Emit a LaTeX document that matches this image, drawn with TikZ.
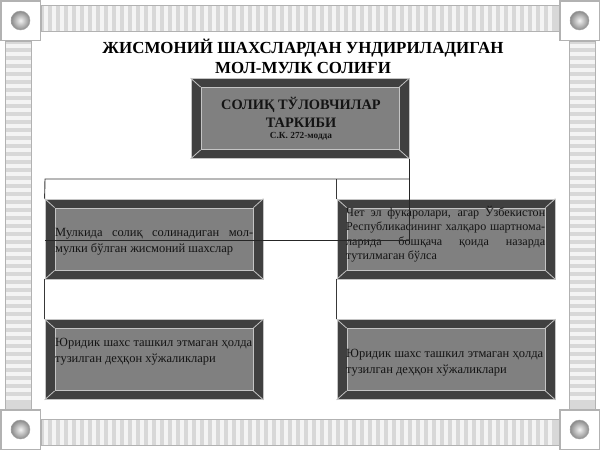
\documentclass[tikz,border=0pt]{standalone}
\usepackage{fontspec}
\setmainfont{Liberation Serif}
\usetikzlibrary{calc}
\definecolor{bevdark}{HTML}{404040}
\definecolor{bevmid}{HTML}{808080}
\definecolor{bevline}{HTML}{C4C4C4}
\definecolor{barfill}{HTML}{D8D8D8}
\definecolor{barstripe}{HTML}{F4F4F4}
\definecolor{barline}{HTML}{B2B2B2}
\definecolor{connc}{HTML}{383838}
\definecolor{ink}{HTML}{141414}
\tikzset{
  outerbox/.style={draw=bevline, fill=bevdark, line width=0.8pt, inner sep=0pt,
    minimum width=218pt, minimum height=80pt},
  innerbox/.style={draw=bevline, fill=bevmid, line width=0.8pt, inner sep=0pt,
    minimum width=198pt, minimum height=62pt},
  bevel/.style={draw=bevline, line width=0.8pt},
  conn/.style={draw=connc, line width=0.9pt},
  overconn/.style={draw=black!85, line width=1pt},
  txt/.style={inner sep=0pt, text=ink, font=\fontsize{12.5}{16}\selectfont},
  titletxt/.style={inner sep=0pt, text=black, font=\fontsize{16.9}{20.5}\selectfont\bfseries},
  barrect/.style={fill=barfill},
  barframe/.style={draw=barline, line width=1pt},
  cornersq/.style={draw=barline, fill=white, line width=1.5pt},
}
\newcommand\bevbox[3]{%
  \node[outerbox] (#1) at (#2,#3) {};
  \node[innerbox] (#1i) at (#2,#3) {};
  \draw[bevel] (#1.north west) -- (#1i.north west);
  \draw[bevel] (#1.north east) -- (#1i.north east);
  \draw[bevel] (#1.south west) -- (#1i.south west);
  \draw[bevel] (#1.south east) -- (#1i.south east);
}
\begin{document}
\begin{tikzpicture}[x=1pt,y=-1pt]
\useasboundingbox (0,0) rectangle (600,450);
\fill[white] (0,0) rectangle (600,450);
% frame bars
\foreach \yy in {5,419} {
  \fill[barrect] (41,\yy) rectangle (559,\yy+26);
  \foreach \xx in {44,52,...,552} \fill[barstripe] (\xx,\yy) rectangle (\xx+4,\yy+26);
  \draw[barframe] (41,\yy) rectangle (559,\yy+26);
}
\foreach \xx in {5,569} {
  \fill[barrect] (\xx,41) rectangle (\xx+26,409);
  \foreach \yy in {44,52,...,402} \fill[barstripe] (\xx,\yy) rectangle (\xx+26,\yy+4);
  \draw[barframe] (\xx,41) rectangle (\xx+26,409);
}
\foreach \cx/\cy in {0/0,559/0,0/409,559/409} {
  \draw[cornersq] (\cx+0.75,\cy+0.75) rectangle (\cx+40.25,\cy+40.25);
  \shade[inner color=white!90!gray, outer color=gray!85!black!80] (\cx+20.5,\cy+20.5) circle (9.5);
  \draw[gray!70, line width=0.4pt] (\cx+20.5,\cy+20.5) circle (9.5);
}
% title
\node[titletxt, anchor=base] (title) at (303,53) {\vtop{\hsize=460pt\parindent=0pt\centering
  ЖИСМОНИЙ ШАХСЛАРДАН УНДИРИЛАДИГАН\par МОЛ-МУЛК СОЛИҒИ\par}};
% boxes
\bevbox{T}{300}{118.5}
\bevbox{B1}{154}{239}
\bevbox{B2}{446}{239}
\bevbox{B3}{154}{359.5}
\bevbox{B4}{446}{359.5}
% texts
\node[inner sep=0pt, text=ink, anchor=base] (Tt) at (301,109) {\vtop{\hsize=198pt\parindent=0pt\centering
  \fontsize{14.4}{18}\selectfont\bfseries СОЛИҚ ТЎЛОВЧИЛАР\par ТАРКИБИ\par
  \fontsize{9.3}{11.5}\selectfont С.К. 272-модда\par}};
\node[txt, anchor=base west] (B1t) at (55,236.5) {\vtop{\hsize=198pt\parindent=0pt
  \makebox[\hsize][s]{Мулкида солиқ солинадиган мол-}\par
  мулки бўлган жисмоний шахслар\par}};
\node[txt, anchor=base west, font=\fontsize{12.1}{14.5}\selectfont] (B2t) at (346,216) {\vtop{\hsize=199pt\parindent=0pt
  \makebox[\hsize][s]{Чет эл фукаролари, агар Ўзбекистон}\par
  \makebox[\hsize][s]{Республикасининг халқаро шартнома-}\par
  \makebox[\hsize][s]{ларида бошқача қоида назарда}\par
  тутилмаган бўлса\par}};
\node[txt, anchor=base west] (B3t) at (55,346) {\vtop{\hsize=197pt\parindent=0pt
  \makebox[\hsize][s]{Юридик шахс ташкил этмаган ҳолда}\par
  тузилган деҳқон хўжаликлари\par}};
\node[txt, anchor=base west] (B4t) at (346,357) {\vtop{\hsize=197pt\parindent=0pt
  \makebox[\hsize][s]{Юридик шахс ташкил этмаган ҳолда}\par
  тузилган деҳқон хўжаликлари\par}};
% connectors
\coordinate (busL) at (45,179);
\coordinate (busR) at (409,179);
\coordinate (B1mid) at ($(B1.west)+(0,1)$);
\draw[conn] (B1.north west) -- (busL) -- (busR);
\draw[conn] (B2.north west) -- (B2.north west |- busL);
\draw[conn] (B1.south west) -- (B3.north west);
\draw[conn] (B2.south west) -- (B4.north west);
\draw[overconn] (T.south east) -- (T.south east |- B1mid) -- (B1mid);
\end{tikzpicture}
\end{document}
